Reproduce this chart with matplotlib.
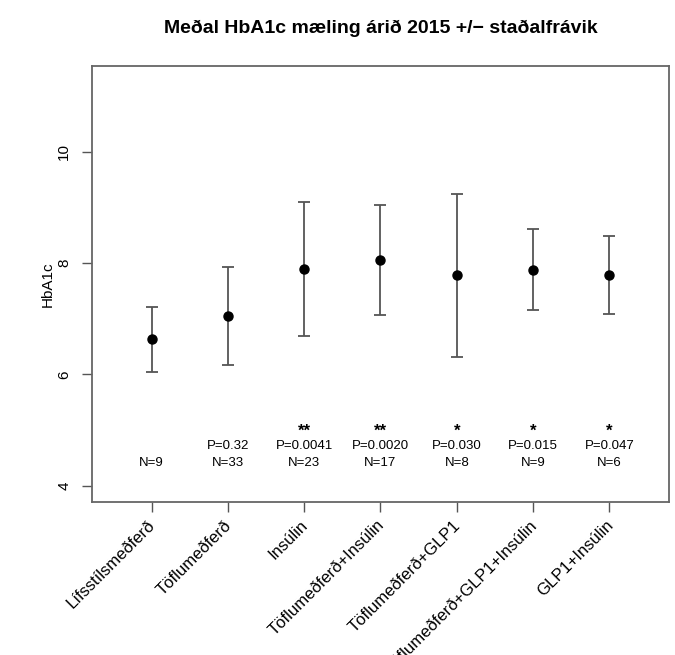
import matplotlib
matplotlib.use("Agg")
import matplotlib.pyplot as plt

plt.rcParams['font.family'] = ['Liberation Sans', 'DejaVu Sans']

groups = ["Lífsstílsmeðferð", "Töflumeðferð", "Insúlin", "Töflumeðferð+Insúlin",
          "Töflumeðferð+GLP1", "Töflumeðferð+GLP1+Insúlin", "GLP1+Insúlin"]
means = [6.63, 7.05, 7.89, 8.05, 7.78, 7.88, 7.79]
sds = [0.59, 0.88, 1.20, 0.99, 1.47, 0.73, 0.70]
n_labels = ["N=9", "N=33", "N=23", "N=17", "N=8", "N=9", "N=6"]
p_labels = ["", "P=0.32", "P=0.0041", "P=0.0020", "P=0.030", "P=0.015", "P=0.047"]
stars = ["", "", "**", "**", "*", "*", "*"]

x = list(range(1, len(groups) + 1))

fig = plt.figure(figsize=(6.75, 6.55), dpi=100)
ax = fig.add_axes([0.1363, 0.2336, 0.8548, 0.6656])

ax.errorbar(x, means, yerr=sds, fmt='o', color='black', ms=6.5,
            ecolor='#555555', elinewidth=1.3, capsize=4.3, capthick=1.3)

# N, P and stars under each group
for xi, n, p, s in zip(x, n_labels, p_labels, stars):
    ax.text(xi, 4.41, n, ha='center', va='center', fontsize=9.5)
    if p:
        ax.text(xi, 4.72, p, ha='center', va='center', fontsize=9.5)
    if s:
        ax.text(xi, 4.84, s, ha='center', va='bottom', fontsize=12, fontweight='bold')

ax.set_xlim(0.22, 7.78)
ax.set_ylim(3.71, 11.54)
ax.set_yticks([4, 6, 8, 10])
ax.set_yticklabels(["4", "6", "8", "10"], rotation=90, va='center', fontsize=11)
ax.set_xticks(x)
ax.set_xticklabels([])
ax.tick_params(direction='out', length=7, width=1, color='#555555', pad=8)
for sp in ax.spines.values():
    sp.set_color('#666666')
    sp.set_linewidth(1.3)

for xi, g in zip(x, groups):
    ax.annotate(g, xy=(xi, 0), xycoords=('data', 'axes fraction'),
                xytext=(1, -15), textcoords='offset points',
                rotation=45, ha='right', va='center', rotation_mode='anchor',
                fontsize=12, annotation_clip=False)

ax.set_ylabel("HbA1c", fontsize=11, labelpad=2)
ax.set_title("Meðal HbA1c mæling árið 2015 +/− staðalfrávik",
             fontsize=14, fontweight='bold', pad=24)

fig.savefig("out.png", dpi=100)
